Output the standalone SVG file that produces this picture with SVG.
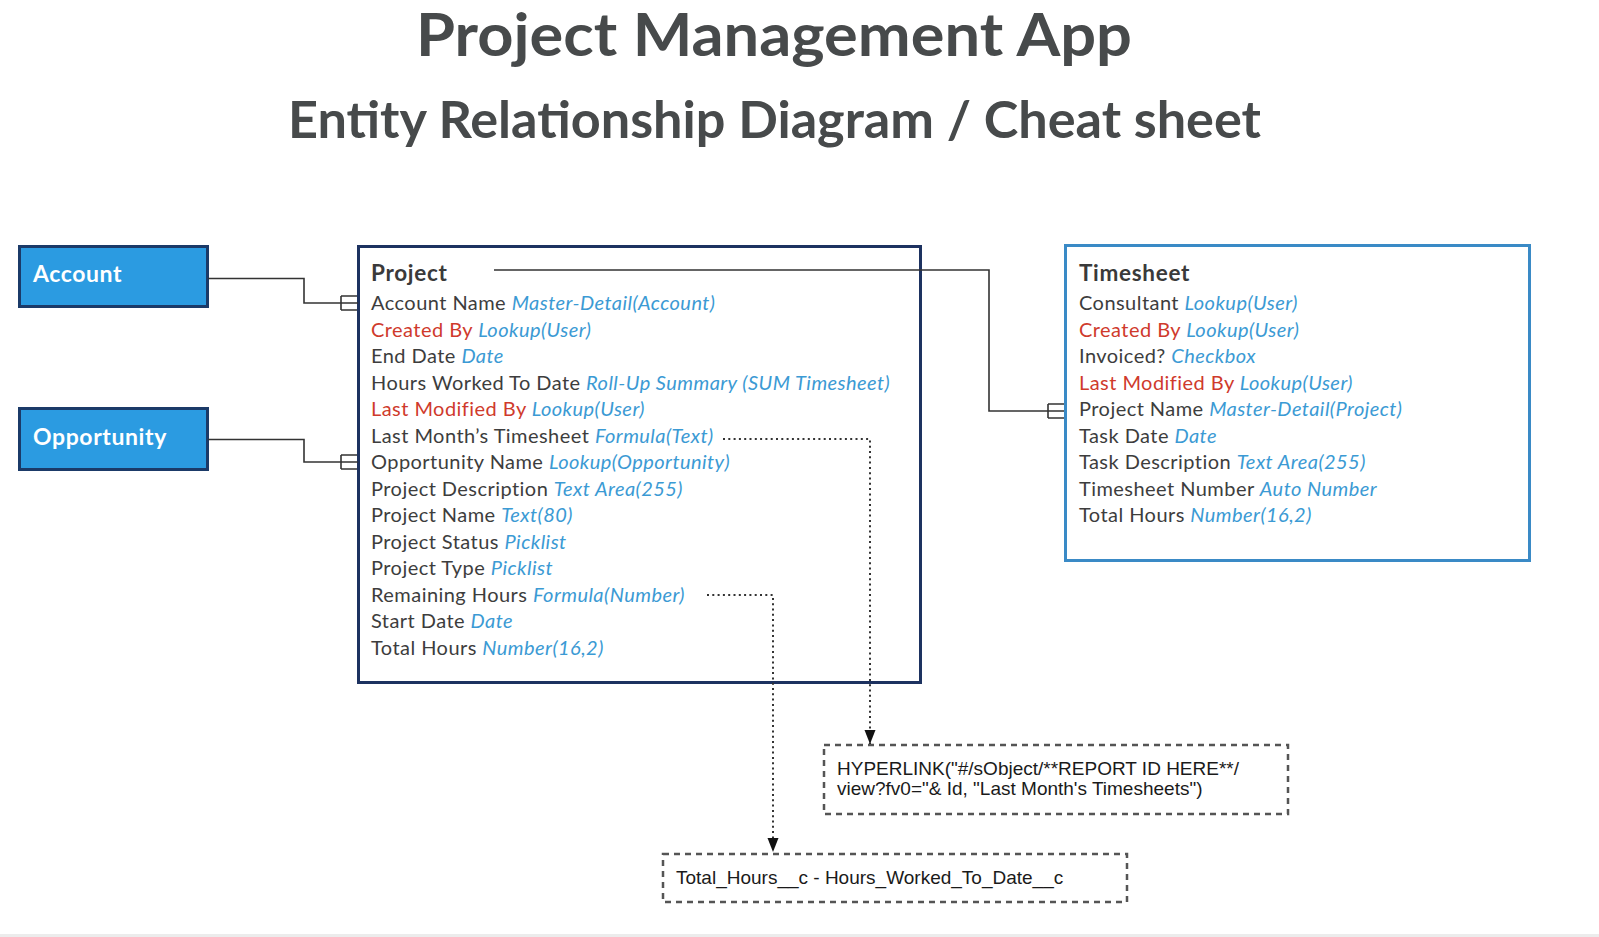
<svg xmlns="http://www.w3.org/2000/svg" width="1599" height="937" viewBox="0 0 1599 937">
<defs>
<style>
.title{font-family:Lato,"Liberation Sans",sans-serif;font-weight:bold;fill:#474a4b}
.entity{fill:#2b9be1;stroke:#1b3a68;stroke-width:3}
.entlbl{font-family:Lato,"Liberation Sans",sans-serif;font-weight:bold;font-size:23px;letter-spacing:0.6px;fill:#ffffff}
.hdr{font-family:Lato,"Liberation Sans",sans-serif;font-weight:bold;font-size:22.5px;letter-spacing:0.7px;fill:#3a3a3a}
.fld{font-family:Lato,"Liberation Sans",sans-serif;font-size:20px;letter-spacing:0.45px;fill:#3d3d3d}
.red{fill:#cf3a2c}
.typ{fill:#3b9ad4;font-style:italic}
.conn{fill:none;stroke:#333;stroke-width:1.6}
.dot{fill:none;stroke:#333;stroke-width:2;stroke-dasharray:2 3.3}
.note{fill:#fff;stroke:#555;stroke-width:2.5;stroke-dasharray:6 5}
.notetxt{font-family:"Liberation Sans",Arial,sans-serif;font-size:19px;fill:#1a1a1a}
</style>
<marker id="arr" markerWidth="15" markerHeight="12" refX="14" refY="5.5" orient="auto" markerUnits="userSpaceOnUse" viewBox="0 0 15 12">
<path d="M0,0 L14,5.5 L0,11 Z" fill="#111"/>
</marker>
</defs>
<rect width="1599" height="937" fill="#ffffff"/>
<rect x="0" y="934" width="1599" height="3" fill="#ececec"/>

<text class="title" x="416" y="56" font-size="60" textLength="716" lengthAdjust="spacingAndGlyphs">Project Management App</text>
<text class="title" x="288" y="138" font-size="52" textLength="973" lengthAdjust="spacingAndGlyphs">Entity Relationship Diagram / Cheat sheet</text>

<g id="account">
<rect class="entity" x="19.5" y="246.5" width="188" height="60"/>
<text class="entlbl" x="33" y="282">Account</text>
</g>

<g id="opportunity">
<rect class="entity" x="19.5" y="408.5" width="188" height="61"/>
<text class="entlbl" x="33" y="445">Opportunity</text>
</g>

<g id="project">
<rect x="358.5" y="246.5" width="562" height="436" fill="#fff" stroke="#1d3260" stroke-width="3"/>
<text class="hdr" x="371" y="281">Project</text>
<text class="fld" x="371" y="310">Account Name <tspan class="typ">Master-Detail(Account)</tspan></text>
<text class="fld" x="371" y="336.5"><tspan class="red">Created By</tspan> <tspan class="typ">Lookup(User)</tspan></text>
<text class="fld" x="371" y="363">End Date <tspan class="typ">Date</tspan></text>
<text class="fld" x="371" y="389.5">Hours Worked To Date <tspan class="typ">Roll-Up Summary (SUM Timesheet)</tspan></text>
<text class="fld" x="371" y="416"><tspan class="red">Last Modified By</tspan> <tspan class="typ">Lookup(User)</tspan></text>
<text class="fld" x="371" y="442.5">Last Month’s Timesheet <tspan class="typ">Formula(Text)</tspan></text>
<text class="fld" x="371" y="469">Opportunity Name <tspan class="typ">Lookup(Opportunity)</tspan></text>
<text class="fld" x="371" y="495.5">Project Description <tspan class="typ">Text Area(255)</tspan></text>
<text class="fld" x="371" y="522">Project Name <tspan class="typ">Text(80)</tspan></text>
<text class="fld" x="371" y="548.5">Project Status <tspan class="typ">Picklist</tspan></text>
<text class="fld" x="371" y="575">Project Type <tspan class="typ">Picklist</tspan></text>
<text class="fld" x="371" y="601.5">Remaining Hours <tspan class="typ">Formula(Number)</tspan></text>
<text class="fld" x="371" y="628">Start Date <tspan class="typ">Date</tspan></text>
<text class="fld" x="371" y="654.5">Total Hours <tspan class="typ">Number(16,2)</tspan></text>
</g>

<g id="timesheet">
<rect x="1065.5" y="245.5" width="464" height="315" fill="#fff" stroke="#3a8ac6" stroke-width="3"/>
<text class="hdr" x="1079" y="281">Timesheet</text>
<text class="fld" x="1079" y="310">Consultant <tspan class="typ">Lookup(User)</tspan></text>
<text class="fld" x="1079" y="336.5"><tspan class="red">Created By</tspan> <tspan class="typ">Lookup(User)</tspan></text>
<text class="fld" x="1079" y="363">Invoiced? <tspan class="typ">Checkbox</tspan></text>
<text class="fld" x="1079" y="389.5"><tspan class="red">Last Modified By</tspan> <tspan class="typ">Lookup(User)</tspan></text>
<text class="fld" x="1079" y="416">Project Name <tspan class="typ">Master-Detail(Project)</tspan></text>
<text class="fld" x="1079" y="442.5">Task Date <tspan class="typ">Date</tspan></text>
<text class="fld" x="1079" y="469">Task Description <tspan class="typ">Text Area(255)</tspan></text>
<text class="fld" x="1079" y="495.5">Timesheet Number <tspan class="typ">Auto Number</tspan></text>
<text class="fld" x="1079" y="522">Total Hours <tspan class="typ">Number(16,2)</tspan></text>
</g>

<g id="hyperlink-note">
<rect class="note" x="824" y="745" width="464" height="69"/>
<text class="notetxt" x="837" y="775">HYPERLINK("#/sObject/**REPORT ID HERE**/</text>
<text class="notetxt" x="837" y="795">view?fv0="&amp; Id, "Last Month's Timesheets")</text>
</g>

<g id="remaining-note">
<rect class="note" x="663" y="854" width="464" height="48"/>
<text class="notetxt" x="676" y="884">Total_Hours__c - Hours_Worked_To_Date__c</text>
</g>

<g id="connectors">
<path class="conn" d="M208,278.5 H304 V303 H358"/>
<path class="conn" d="M341,296 V310 M341,296 H357 M341,310 H357"/>
<path class="conn" d="M208,439.5 H304 V462 H358"/>
<path class="conn" d="M341,455 V469 M341,455 H357 M341,469 H357"/>
<path class="conn" d="M494,270 H989 V411 H1064"/>
<path class="conn" d="M1048,404 V418 M1048,404 H1064 M1048,418 H1064"/>
<path class="dot" d="M723,439 H870 V744" marker-end="url(#arr)"/>
<path class="dot" d="M707,595 H773 V852" marker-end="url(#arr)"/>
</g>
</svg>
